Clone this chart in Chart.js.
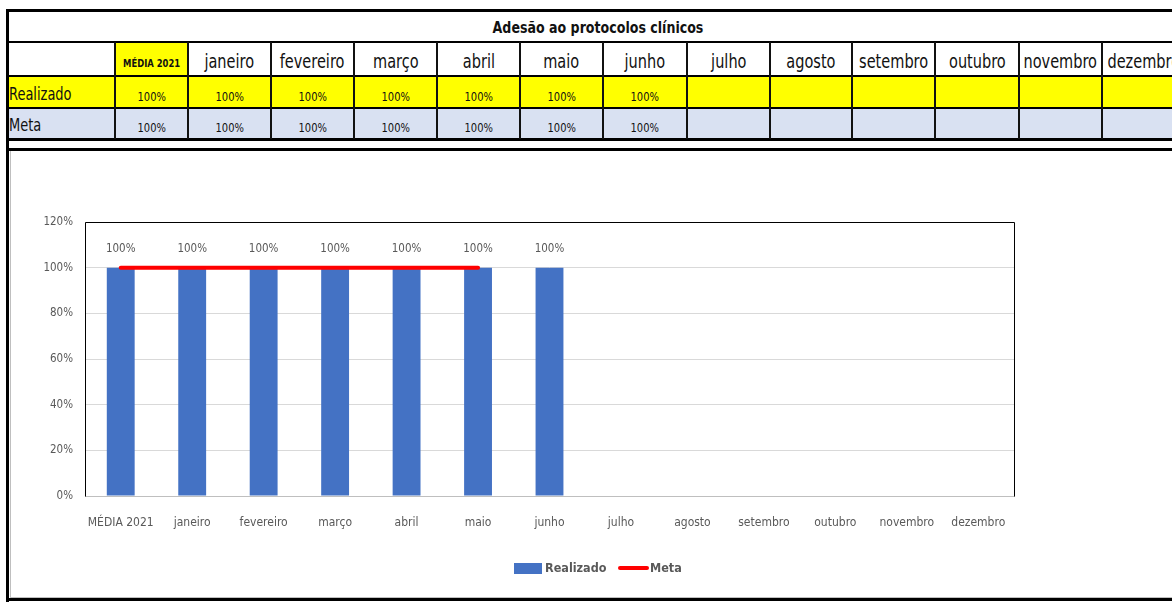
<!DOCTYPE html>
<html lang="pt-BR">
<head>
<meta charset="utf-8">
<title>Adesão ao protocolos clínicos</title>
<script src="https://cdn.jsdelivr.net/npm/chart.js@4.4.0/dist/chart.umd.min.js"></script>
<style>
  html, body { margin: 0; padding: 0; background: #fff; }
  body {
    width: 1172px; height: 602px; position: relative; overflow: hidden;
    font-family: 'DejaVu Sans Condensed', 'Liberation Sans', sans-serif;
  }
  .cel {
    position: absolute; box-sizing: border-box; display: flex;
    align-items: center; justify-content: center; white-space: nowrap; color: #111;
  }
  .cel span { display: inline-block; }
  .linha { position: absolute; }
  #grafico { position: absolute; left: 11px; top: 151px; }
</style>
</head>
<body>
<div id="planilha"></div>
<canvas id="grafico" width="1161" height="446"></canvas>
<script>
// Dados da planilha / gráfico
const titulo = 'Adesão ao protocolos clínicos';
const categorias = ['MÉDIA 2021', 'janeiro', 'fevereiro', 'março', 'abril', 'maio', 'junho',
  'julho', 'agosto', 'setembro', 'outubro', 'novembro', 'dezembro'];
const realizado = [100, 100, 100, 100, 100, 100, 100, null, null, null, null, null, null];
const metaTabela = [100, 100, 100, 100, 100, 100, 100, null, null, null, null, null, null];
const metaGrafico = [100, 100, 100, 100, 100, 100, null, null, null, null, null, null, null];
const eixoMin = 0;
const eixoMax = 120;
const eixoPasso = 20;

const FONTE = "'DejaVu Sans Condensed', 'Liberation Sans', sans-serif";

// ---- Tabela (estilo planilha) ----
const planilha = document.getElementById('planilha');
const colunas = [7, 115, 188, 271, 354, 437, 520, 603, 687, 770, 852, 935, 1019, 1102, 1185];

// texto da planilha é estreito (Calibri), então comprimo na horizontal
function celula(x0, x1, y0, y1, texto, estilo, origem) {
  const d = document.createElement('div');
  d.className = 'cel';
  d.style.left = x0 + 'px';
  d.style.top = y0 + 'px';
  d.style.width = (x1 - x0) + 'px';
  d.style.height = (y1 - y0) + 'px';
  Object.assign(d.style, estilo || {});
  if (texto) {
    const s = document.createElement('span');
    s.textContent = texto;
    s.style.transform = 'scaleX(0.85)';
    s.style.transformOrigin = origem || 'center';
    d.appendChild(s);
  }
  planilha.appendChild(d);
  return d;
}

function linha(x, y, w, h, cor) {
  const d = document.createElement('div');
  d.className = 'linha';
  d.style.left = x + 'px';
  d.style.top = y + 'px';
  d.style.width = w + 'px';
  d.style.height = h + 'px';
  d.style.background = cor || '#000';
  planilha.appendChild(d);
}

const pct = v => (v === null ? '' : v + '%');

// fundos
celula(7, 1172, 76, 108, '', { background: '#FFFF00' });
celula(7, 1172, 108, 140, '', { background: '#D9E1F2' });
celula(colunas[1], colunas[2], 42, 76, '', { background: '#FFFF00' });

// título
celula(7, 1189, 10, 42, titulo, { fontWeight: 'bold', fontSize: '16.5px', paddingTop: '3px' });

// cabeçalho + linhas
celula(7, 115, 76, 108, 'Realizado', { justifyContent: 'flex-start', paddingLeft: '2px', fontSize: '17px', paddingTop: '4px' }, 'left');
celula(7, 115, 108, 140, 'Meta', { justifyContent: 'flex-start', paddingLeft: '2px', fontSize: '17px', paddingTop: '1px' }, 'left');
categorias.forEach((c, i) => {
  const x0 = colunas[i + 1], x1 = colunas[i + 2];
  if (i === 0) {
    celula(x0, x1, 42, 76, c, { fontWeight: 'bold', fontSize: '11px', paddingTop: '8px' });
  } else {
    celula(x0, x1, 42, 76, c, { fontSize: '19px', paddingTop: '4px' });
  }
  celula(x0, x1, 76, 108, pct(realizado[i]), { fontSize: '13px', paddingTop: '8px' });
  celula(x0, x1, 108, 140, pct(metaTabela[i]), { fontSize: '13px', paddingTop: '6px' });
});

// bordas
linha(6, 9, 1166, 3);
linha(6, 41, 1166, 2);
linha(6, 75, 1166, 2);
linha(6, 107, 1166, 2);
linha(6, 138, 1166, 3);
colunas.slice(1).forEach(x => linha(x - 1, 42, 2, 97, '#111'));
linha(6, 9, 3, 593);
linha(6, 148, 1166, 3);
linha(10, 151, 1, 446, '#BFBFBF');
linha(10, 597, 1162, 1, '#BFBFBF');
linha(6, 598, 1166, 3);

// ---- Gráfico ----
const cinzaTexto = '#595959';

const bordaArea = {
  id: 'bordaArea',
  afterDraw(chart) {
    const { ctx, chartArea: a } = chart;
    const l = Math.round(a.left) + 0.5, r = Math.round(a.right) + 0.5;
    const t = Math.round(a.top) + 0.5, b = Math.round(a.bottom) + 0.5;
    ctx.save();
    ctx.strokeStyle = '#000';
    ctx.lineWidth = 1;
    ctx.beginPath();
    ctx.moveTo(l, b);
    ctx.lineTo(l, t);
    ctx.lineTo(r, t);
    ctx.lineTo(r, b);
    ctx.stroke();
    ctx.restore();
  }
};

const rotulosBarras = {
  id: 'rotulosBarras',
  afterDatasetsDraw(chart) {
    const { ctx } = chart;
    const meta = chart.getDatasetMeta(0);
    const dados = chart.data.datasets[0].data;
    ctx.save();
    ctx.font = '11.5px ' + FONTE;
    ctx.fillStyle = cinzaTexto;
    ctx.textAlign = 'center';
    ctx.textBaseline = 'middle';
    meta.data.forEach((barra, i) => {
      if (dados[i] === null) return;
      ctx.fillText(dados[i] + '%', barra.x, barra.y - 19);
    });
    ctx.restore();
  }
};

const legendaExcel = {
  id: 'legendaExcel',
  afterDraw(chart) {
    const { ctx } = chart;
    const ds = chart.data.datasets;
    const y = 417;
    ctx.save();
    ctx.font = 'bold 12.5px ' + FONTE;
    ctx.fillStyle = ds[0].backgroundColor;
    ctx.fillRect(503, y - 5, 28, 11);
    ctx.fillStyle = cinzaTexto;
    ctx.textBaseline = 'middle';
    ctx.textAlign = 'left';
    ctx.fillText(ds[0].label, 534, y + 1);
    ctx.strokeStyle = ds[1].borderColor;
    ctx.lineWidth = 4;
    ctx.lineCap = 'round';
    ctx.beginPath();
    ctx.moveTo(609, y);
    ctx.lineTo(636, y);
    ctx.stroke();
    ctx.fillText(ds[1].label, 639, y + 1);
    ctx.restore();
  }
};

new Chart(document.getElementById('grafico').getContext('2d'), {
  type: 'bar',
  data: {
    labels: categorias,
    datasets: [
      {
        label: 'Realizado',
        data: realizado,
        backgroundColor: '#4472C4',
        barPercentage: 0.39,
        categoryPercentage: 1,
        order: 2
      },
      {
        type: 'line',
        label: 'Meta',
        data: metaGrafico,
        borderColor: '#FF0000',
        backgroundColor: '#FF0000',
        borderWidth: 4,
        borderCapStyle: 'round',
        pointRadius: 0,
        fill: false,
        order: 1
      }
    ]
  },
  options: {
    responsive: false,
    devicePixelRatio: 1,
    animation: false,
    layout: { padding: { left: 0, right: 158, top: 71, bottom: 0 } },
    plugins: {
      legend: { display: false },
      tooltip: { enabled: false }
    },
    scales: {
      x: {
        grid: { display: false, drawTicks: false },
        border: { color: '#BFBFBF', width: 1 },
        ticks: {
          color: cinzaTexto,
          font: { family: FONTE, size: 12 },
          padding: 20,
          maxRotation: 0,
          autoSkip: false
        },
        afterFit: s => { s.height = 101; }
      },
      y: {
        min: eixoMin,
        max: eixoMax,
        grid: { color: '#D9D9D9', drawTicks: false },
        border: { display: false },
        ticks: {
          stepSize: eixoPasso,
          color: cinzaTexto,
          font: { family: FONTE, size: 11.5 },
          padding: 12,
          callback: v => v + '%'
        },
        afterFit: s => { s.width = 74; }
      }
    }
  },
  plugins: [bordaArea, rotulosBarras, legendaExcel]
});
</script>
</body>
</html>
